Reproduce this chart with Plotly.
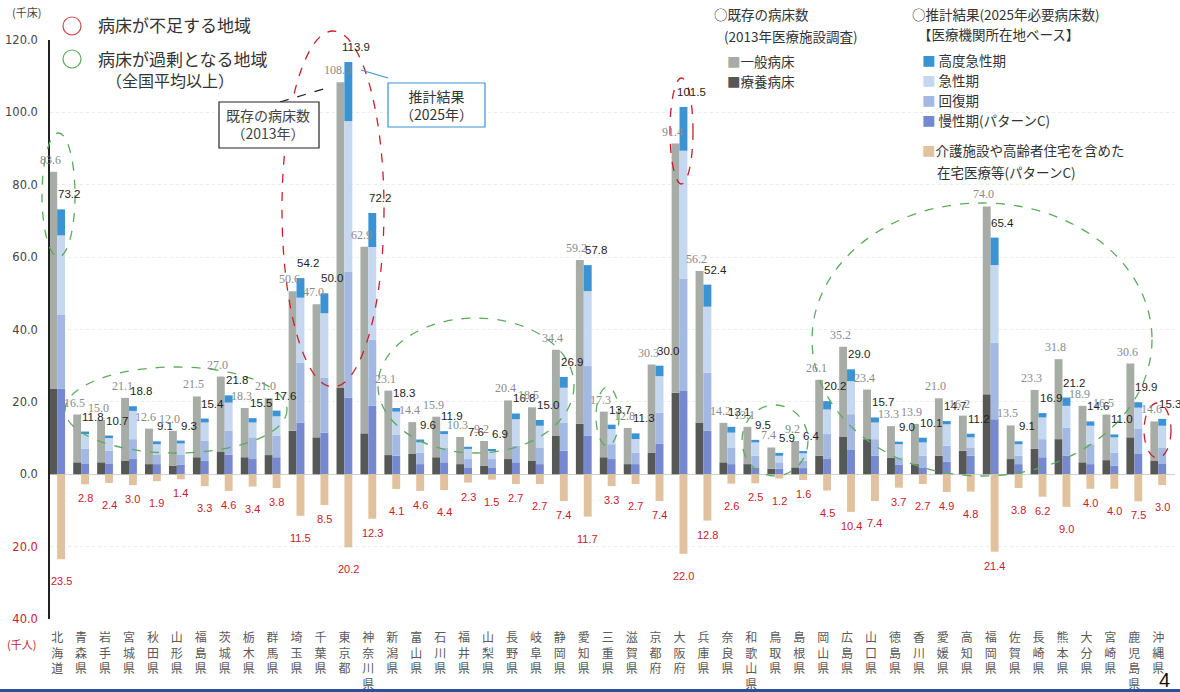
import plotly.graph_objects as go

# 都道府県
prefs = ["北海道", "青森県", "岩手県", "宮城県", "秋田県", "山形県", "福島県", "茨城県", "栃木県", "群馬県",
         "埼玉県", "千葉県", "東京都", "神奈川県", "新潟県", "富山県", "石川県", "福井県", "山梨県", "長野県",
         "岐阜県", "静岡県", "愛知県", "三重県", "滋賀県", "京都府", "大阪府", "兵庫県", "奈良県", "和歌山県",
         "鳥取県", "島根県", "岡山県", "広島県", "山口県", "徳島県", "香川県", "愛媛県", "高知県", "福岡県",
         "佐賀県", "長崎県", "熊本県", "大分県", "宮崎県", "鹿児島県", "沖縄県"]

# 既存の病床数（2013年医療施設調査, 千床）
ryoyo = [23.7, 3.3, 3.3, 3.8, 2.8, 2.4, 4.7, 6.3, 4.7, 5.3,
         12.0, 10.2, 24.0, 11.3, 5.3, 5.6, 4.7, 2.8, 2.4, 4.2,
         3.8, 10.6, 14.0, 4.7, 2.8, 6.0, 22.5, 14.3, 3.3, 2.8,
         1.5, 1.9, 5.1, 10.3, 9.7, 4.5, 2.8, 5.1, 6.5, 22.1,
         4.2, 7.0, 9.7, 3.3, 3.9, 10.2, 3.8]
ippan = [59.9, 13.2, 11.7, 17.3, 9.8, 9.6, 16.8, 20.7, 13.6, 15.7,
         38.6, 36.8, 84.3, 51.6, 17.8, 8.8, 11.2, 7.5, 6.8, 16.2,
         14.7, 23.8, 45.2, 12.6, 10.0, 24.3, 68.9, 41.9, 10.9, 10.3,
         5.9, 7.3, 21.0, 24.9, 13.7, 8.8, 11.1, 15.9, 9.7, 51.9,
         9.3, 16.3, 22.1, 15.6, 12.6, 20.4, 10.8]

# 推計結果（2025年必要病床数, 医療機関所在地ベース, 千床）
mansei = [23.7, 3.0, 3.0, 4.2, 2.8, 2.7, 3.8, 5.4, 4.2, 4.7,
          14.3, 11.5, 21.2, 18.9, 5.1, 2.8, 3.3, 1.9, 1.9, 3.3,
          2.8, 6.5, 10.6, 4.2, 2.8, 8.5, 23.0, 12.0, 2.8, 1.9,
          1.5, 1.7, 4.2, 6.7, 5.1, 2.7, 1.9, 3.5, 5.1, 15.2,
          2.8, 4.7, 5.1, 2.8, 2.4, 5.6, 3.0]
kaifuku = [20.3, 4.0, 3.5, 5.5, 2.7, 2.8, 5.4, 6.6, 6.0, 5.9,
           16.5, 15.1, 34.8, 18.3, 5.9, 3.2, 4.1, 2.3, 2.3, 4.6,
           4.6, 7.8, 19.3, 4.1, 3.2, 8.5, 31.1, 16.0, 4.6, 3.2,
           1.8, 2.1, 6.9, 9.9, 4.6, 2.0, 3.2, 4.4, 2.3, 21.1,
           2.3, 5.0, 7.8, 5.5, 3.6, 6.9, 4.4]
kyusei = [22.0, 4.1, 3.5, 7.8, 2.8, 3.0, 5.1, 7.8, 4.1, 5.4,
          18.0, 17.9, 41.6, 25.6, 6.3, 2.8, 3.7, 2.8, 2.3, 7.3,
          6.0, 9.6, 20.7, 4.2, 3.7, 10.1, 35.3, 18.3, 4.1, 3.7,
          1.8, 2.0, 6.8, 9.1, 4.6, 3.6, 3.7, 5.9, 2.8, 21.5,
          3.2, 6.0, 6.0, 5.1, 4.2, 5.9, 6.0]
koudo = [7.2, 0.7, 0.7, 1.3, 0.8, 0.8, 1.1, 2.0, 1.2, 1.6,
         5.4, 5.5, 16.3, 9.4, 1.0, 0.8, 0.8, 0.6, 0.4, 1.6,
         1.6, 3.0, 7.2, 1.2, 1.6, 2.9, 12.1, 6.1, 1.6, 0.7,
         0.8, 0.6, 2.3, 3.3, 1.4, 0.7, 1.3, 0.9, 1.0, 7.6,
         0.8, 1.2, 2.3, 1.2, 0.8, 1.5, 1.9]

# 介護施設や高齢者住宅を含めた在宅医療等（パターンC, 千人）
zaitaku = [23.5, 2.8, 2.4, 3.0, 1.9, 1.4, 3.3, 4.6, 3.4, 3.8,
           11.5, 8.5, 20.2, 12.3, 4.1, 4.6, 4.4, 2.3, 1.5, 2.7,
           2.7, 7.4, 11.7, 3.3, 2.7, 7.4, 22.0, 12.8, 2.6, 2.5,
           1.2, 1.6, 4.5, 10.4, 7.4, 3.7, 2.7, 4.9, 4.8, 21.4,
           3.8, 6.2, 9.0, 4.0, 4.0, 7.5, 3.0]

y_ticks = [-40, -20, 0, 20, 40, 60, 80, 100, 120]

# ---- layout geometry (pixels) ----
W, H = 1180, 692
ML, MR, MT, MB = 50, 5, 40, 73
PW, PH = W - ML - MR, H - MT - MB


def px(x):
    return (x - ML) / PW


def py(y):
    return 1 - (y - MT) / PH


C_IPPAN = "#a7aca6"
C_RYOYO = "#555855"
C_KOUDO = "#3b93d3"
C_KYUSEI = "#c6d8f0"
C_KAIFUKU = "#a3b9e4"
C_MANSEI = "#7688cf"
C_ZAITAKU = "#e0c39e"
RED = "#c8202a"
GREEN = "#5cab5c"

n = len(prefs)
idx = list(range(n))
xa = [i - 0.165 for i in idx]
xb = [i + 0.165 for i in idx]
BW = 0.33

fig = go.Figure()
fig.add_bar(x=xa, y=ryoyo, width=BW, marker_color=C_RYOYO, name="療養病床")
fig.add_bar(x=xa, y=ippan, width=BW, marker_color=C_IPPAN, name="一般病床")
fig.add_bar(x=xb, y=mansei, width=BW, marker_color=C_MANSEI, name="慢性期")
fig.add_bar(x=xb, y=kaifuku, width=BW, marker_color=C_KAIFUKU, name="回復期")
fig.add_bar(x=xb, y=kyusei, width=BW, marker_color=C_KYUSEI, name="急性期")
fig.add_bar(x=xb, y=koudo, width=BW, marker_color=C_KOUDO, name="高度急性期")
fig.add_bar(x=xb, y=[-v for v in zaitaku], width=BW, marker_color=C_ZAITAKU, name="在宅医療等")
fig.update_traces(marker_line_width=0, hoverinfo="skip")

ann = []
for i in idx:
    tot_a = round(ryoyo[i] + ippan[i], 1)
    tot_b = round(mansei[i] + kaifuku[i] + kyusei[i] + koudo[i], 1)
    ann.append(dict(x=xa[i], y=tot_a, xref="x", yref="y", text=f"{tot_a:.1f}", showarrow=False,
                    xanchor="center", yanchor="bottom", xshift=-3, yshift=3,
                    font=dict(family="Liberation Serif", size=12, color="#8a8a8a")))
    ann.append(dict(x=xb[i], y=tot_b, xref="x", yref="y", text=f"{tot_b:.1f}", showarrow=False,
                    xanchor="center", yanchor="bottom", xshift=8, yshift=7,
                    font=dict(family="Liberation Sans", size=11.5, color="#1e1e1e")))
    ann.append(dict(x=xb[i], y=-zaitaku[i], xref="x", yref="y", text=f"{zaitaku[i]:.1f}", showarrow=False,
                    xanchor="center", yanchor="top", yshift=-(6 if i % 2 else 14),
                    font=dict(family="Liberation Sans", size=11, color=RED)))


def txt(x, y, s, size=14, color="#333", anchor="left", family="Noto Sans CJK JP"):
    ann.append(dict(x=px(x), y=py(y), xref="paper", yref="paper", text=s, showarrow=False,
                    xanchor=anchor, yanchor="middle", font=dict(family=family, size=size, color=color)))


def sq(color):
    return f"<span style='color:{color}'>■</span>"


# axis unit labels
txt(10, 12, "(千床)", 11, "#444")
txt(5, 644, "(千人)", 11, RED)

# region key (top left)
txt(96, 25, "病床が不足する地域", 17, "#333")
txt(96, 58, "病床が過剰となる地域", 17, "#333")
txt(104, 80, "（全国平均以上）", 16, "#333")

# series key (top right)
txt(712, 14, "○既存の病床数", 13.5)
txt(722, 36, "(2013年医療施設調査)", 13.5)
txt(725, 61, sq(C_IPPAN) + "一般病床", 13.5)
txt(725, 81, sq(C_RYOYO) + "療養病床", 13.5)
txt(910, 14, "○推計結果(2025年必要病床数)", 13.5)
txt(916, 34, "【医療機関所在地ベース】", 13.5)
txt(920, 60, sq(C_KOUDO) + " 高度急性期", 13.5)
txt(920, 80, sq(C_KYUSEI) + " 急性期", 13.5)
txt(920, 100, sq(C_KAIFUKU) + " 回復期", 13.5)
txt(920, 120, sq(C_MANSEI) + " 慢性期(パターンC)", 13.5)
txt(920, 150, sq(C_ZAITAKU) + "介護施設や高齢者住宅を含めた", 13.5)
txt(935, 172, "在宅医療等(パターンC)", 13.5)

# callouts
txt(268, 124, "既存の病床数<br>（2013年）", 14, "#444", "center")
txt(436, 105, "推計結果<br>（2025年）", 14, "#333", "center")

txt(1164, 680, "4", 20, "#111", "center", "Liberation Sans")

shapes = []


def ellipse(x0, y0, x1, y1, color, dash="dash", width=1.3):
    shapes.append(dict(type="circle", xref="paper", yref="paper", x0=px(x0), x1=px(x1),
                       y0=py(y1), y1=py(y0), line=dict(color=color, width=width, dash=dash)))


def box(x0, y0, x1, y1, color):
    shapes.append(dict(type="rect", xref="paper", yref="paper", x0=px(x0), x1=px(x1),
                       y0=py(y1), y1=py(y0), line=dict(color=color, width=1.2), fillcolor="white"))


def seg(x0, y0, x1, y1, color, dash="solid"):
    shapes.append(dict(type="line", xref="paper", yref="paper", x0=px(x0), x1=px(x1),
                       y0=py(y0), y1=py(y1), line=dict(color=color, width=1.2, dash=dash)))


# key circles
ellipse(63, 17, 81, 35, "#d04848", "solid", 1.2)
ellipse(63, 50, 81, 68, GREEN, "solid", 1.2)

# shortage regions
ellipse(282, 31, 384, 387, RED)
ellipse(670, 78, 693, 184, RED)
ellipse(1144, 403, 1171, 458, RED)
# surplus regions
ellipse(42, 133, 75, 257, GREEN)
ellipse(65, 367, 287, 453, GREEN)
ellipse(378, 318, 574, 453, GREEN)
ellipse(596, 387, 619, 446, GREEN)
ellipse(742, 405, 808, 476, GREEN)
ellipse(812, 203, 1152, 476, GREEN)

# callout boxes and leaders
seg(280, 102, 330, 87, "#222", "dash")
box(219, 102, 319, 148, "#222")
seg(361, 70, 388, 78, "#3b93d3")
box(388, 83, 485, 127, "#3b93d3")

# bottom band
shapes.append(dict(type="rect", xref="paper", yref="paper", x0=px(0), x1=px(W), y0=py(692), y1=py(689),
                   line=dict(width=0), fillcolor="#2b4f9c"))

tick_text = []
for v in y_ticks:
    s = f"{abs(v):.1f}"
    tick_text.append(f"<span style='color:{RED}'>{s}</span>" if v < 0 else s)

fig.update_layout(
    width=W, height=H, autosize=False,
    margin=dict(l=ML, r=MR, t=MT, b=MB),
    barmode="relative",
    showlegend=False,
    paper_bgcolor="white", plot_bgcolor="white",
    annotations=ann, shapes=shapes,
    xaxis=dict(range=[-0.3, n - 0.3], tickmode="array", tickvals=idx,
               ticktext=["<br>".join(list(p)) for p in prefs], tickangle=0, automargin=False,
               tickfont=dict(family="Noto Sans CJK JP", size=12, color="#5a5a5a"),
               showgrid=False, zeroline=False, showline=False, ticks="", ticklabelstandoff=10),
    yaxis=dict(range=[-40, 120], tickmode="array", tickvals=y_ticks, ticktext=tick_text, automargin=False,
               tickfont=dict(family="DejaVu Sans", size=11.5, color="#444"),
               showline=True, linecolor="#222", linewidth=1.5, ticks="",
               showgrid=True, gridcolor="#ececec", griddash="dot",
               zeroline=True, zerolinecolor="#d0d0d0", zerolinewidth=1, ticklabelstandoff=8),
)

fig.write_html("out.html")
